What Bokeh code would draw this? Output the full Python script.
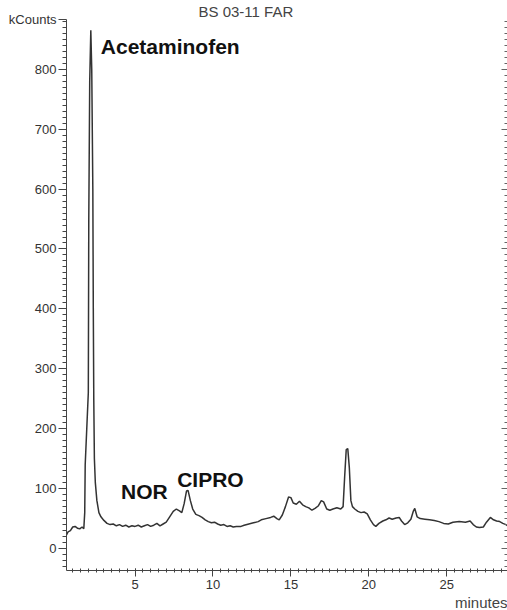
from bokeh.plotting import figure
from bokeh.models import LinearAxis, Range1d, Label, SingleIntervalTicker, FixedTicker, CustomJSTickFormatter, Title
from bokeh.embed import file_html
from bokeh.resources import INLINE

# Chromatogram trace (time in minutes, signal in kCounts)
time_min = [0.6, 0.7, 0.85, 1.0, 1.15, 1.3, 1.45, 1.6, 1.71, 1.77, 1.8, 1.9, 2.0, 2.03,
            2.09, 2.16, 2.22, 2.29, 2.32, 2.35, 2.39, 2.45, 2.55, 2.68, 2.81, 3.0,
            3.2, 3.4, 3.6, 3.8, 4.0, 4.2, 4.4, 4.6, 4.8, 5.0, 5.2, 5.4,
            5.6, 5.8, 6.0, 6.2, 6.4, 6.6, 6.8, 7.0, 7.2, 7.45, 7.65, 7.85, 8.0, 8.15, 8.3, 8.4,
            8.55, 8.7, 8.9, 9.1, 9.3, 9.5, 9.7, 9.9, 10.1, 10.3, 10.5, 10.7, 10.9, 11.1, 11.3,
            11.5, 11.8, 12.0, 12.3, 12.6, 12.9, 13.1, 13.4, 13.7, 13.9, 14.1, 14.25, 14.45,
            14.65, 14.85, 15.0, 15.15, 15.35, 15.55, 15.75, 15.95, 16.15, 16.35, 16.55, 16.75,
            16.95, 17.1, 17.3, 17.5, 17.7, 17.95, 18.2, 18.35, 18.45, 18.55, 18.65, 18.75,
            18.85, 18.95, 19.1, 19.3, 19.5, 19.7, 19.9, 20.1, 20.3, 20.45, 20.65, 20.9, 21.1,
            21.3, 21.5, 21.75, 21.95, 22.1, 22.3, 22.5, 22.7, 22.85, 22.95, 23.1, 23.3, 23.6,
            23.9, 24.2, 24.5, 24.8, 25.1, 25.4, 25.8, 26.2, 26.5, 26.7, 26.9, 27.1, 27.35,
            27.55, 27.8, 28.0, 28.2, 28.4, 28.6, 28.8, 28.9]
signal = [23, 28, 30, 36, 37, 34, 33, 36, 33, 60, 140, 200, 260, 550,
          780, 865, 800, 600, 400, 250, 150, 110, 80, 60, 53, 47,
          42, 40, 41, 38, 40, 37, 39, 36, 38, 37, 39, 36,
          38, 40, 37, 39, 42, 38, 41, 44, 52, 62, 66, 63, 60, 75, 96, 97,
          80, 66, 57, 55, 52, 48, 45, 43, 44, 41, 39, 40, 37, 38, 36,
          37, 37, 39, 41, 43, 45, 48, 50, 52, 54, 50, 48, 56,
          70, 86, 85, 76, 74, 79, 73, 70, 68, 64, 67, 71,
          80, 78, 66, 64, 66, 68, 66, 70, 120, 165, 167, 135,
          80, 70, 66, 62, 60, 61, 58, 48, 40, 37, 42, 46, 48,
          51, 49, 51, 52, 46, 40, 43, 49, 62, 67, 53, 50, 49,
          48, 47, 45, 42, 41, 44, 45, 44, 46, 40, 36, 35, 36,
          44, 52, 48, 46, 45, 42, 40, 38]

y_ticks = [0, 100, 200, 300, 400, 500, 600, 700, 800]
y_top = 883
y_bottom = -36.6

peak_names = ["Acetaminofen", "NOR", "CIPRO"]
peak_label_x = [2.8, 4.1, 7.7]
peak_label_y = [838, 95, 115]

title_text = "BS 03-11 FAR"
y_unit = "kCounts"
x_unit = "minutes"

FONT = "Liberation Sans"
AX = "#444444"

p = figure(width=507, height=610, output_backend="svg", toolbar_location=None,
           x_range=Range1d(0.6, 28.9), y_range=Range1d(y_bottom, y_top),
           min_border_left=66, min_border_right=0, min_border_top=17, min_border_bottom=36)
p.outline_line_color = None
p.xgrid.visible = False
p.ygrid.visible = False
p.background_fill_color = "white"
p.border_fill_color = "white"

p.line(time_min, signal, line_color="#333333", line_width=1.5)

xa = p.xaxis[0]
xa.ticker = SingleIntervalTicker(interval=5, num_minor_ticks=10)
ya = p.yaxis[0]
ya.ticker = FixedTicker(ticks=y_ticks + [y_top],
                        minor_ticks=list(range(-30, 890, 10)))
ya.major_label_overrides = {y_top: y_unit}
for ax in (xa, ya):
    ax.axis_line_color = AX
    ax.major_tick_line_color = AX
    ax.minor_tick_line_color = AX
    ax.major_label_text_font = FONT
    ax.major_label_text_font_size = "13px"
    ax.major_label_text_color = "#333333"
xa.major_label_standoff = 3
xa.major_tick_out = 6
xa.major_tick_in = 2
xa.minor_tick_out = 2
xa.minor_tick_in = 2
ya.major_label_standoff = 2
ya.major_tick_out = 8
ya.major_tick_in = 0
ya.minor_tick_out = 4
ya.minor_tick_in = 0

ra = LinearAxis(ticker=SingleIntervalTicker(interval=100, num_minor_ticks=10),
                formatter=CustomJSTickFormatter(code="return ''"))
ra.axis_line_color = None
ra.major_label_standoff = 0
ra.major_tick_in = 6
ra.major_tick_out = 0
ra.minor_tick_in = 3
ra.minor_tick_out = 0
ra.major_tick_line_color = "#666666"
ra.minor_tick_line_color = "#666666"
p.add_layout(ra, "right")

for name, lx, ly in zip(peak_names, peak_label_x, peak_label_y):
    p.add_layout(Label(x=lx, y=ly, text=name, text_font=FONT, text_font_size="21px",
                       text_font_style="bold", text_color="#111111",
                       text_baseline="middle", text_align="left"))

top_title = Title(text=title_text, align="left", offset=132, standoff=0,
                  text_font=FONT, text_font_size="15px", text_font_style="normal",
                  text_color="#444444")
p.add_layout(top_title, "above")

bottom_title = Title(text=x_unit, align="right", offset=0, standoff=0,
                     text_font=FONT, text_font_size="15px", text_font_style="normal",
                     text_color="#444444")
p.add_layout(bottom_title, "below")

open("out.html", "w").write(file_html(p, INLINE))
